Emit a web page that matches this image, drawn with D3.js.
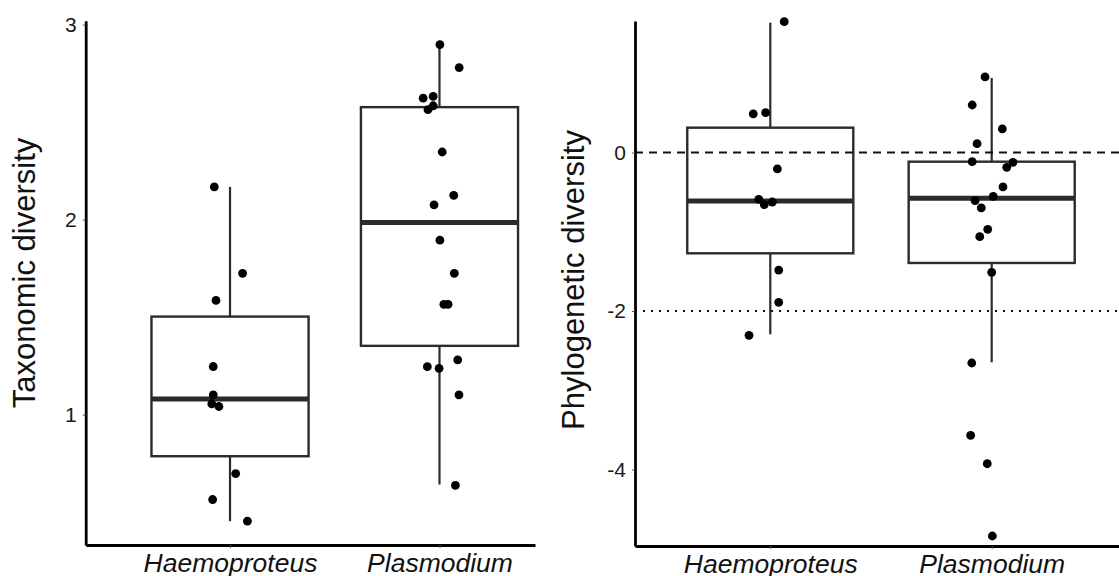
<!DOCTYPE html>
<html>
<head>
<meta charset="utf-8">
<script src="https://cdn.jsdelivr.net/npm/d3@7"></script>
<style>
  html, body { margin: 0; padding: 0; background: #fff; }
  svg { display: block; }
  text { font-family: "Liberation Sans", Arial, sans-serif; }
</style>
</head>
<body>
<svg id="chart" width="1119" height="576"></svg>
<script>
// ---------------- DATA ----------------
const categories = ["Haemoproteus", "Plasmodium"];

// Panel A: Taxonomic diversity
const taxTicks = [1, 2, 3];
const taxQ1 = [0.787, 1.353];
const taxMedian = [1.080, 1.986];
const taxQ3 = [1.503, 2.577];
const taxWhiskerLo = [0.454, 0.642];
const taxWhiskerHi = [2.168, 2.898];
const taxHaemoValues = [2.168, 1.725, 1.586, 1.247, 1.102, 1.056, 1.042, 0.698, 0.565, 0.454];
const taxHaemoJitter = [-0.075, 0.060, -0.067, -0.080, -0.080, -0.087, -0.053, 0.027, -0.083, 0.083];
const taxPlasValues = [2.898, 2.780, 2.623, 2.632, 2.584, 2.564, 2.347, 2.125, 2.076, 1.895, 1.725, 1.566, 1.566, 1.281, 1.246, 1.237, 1.102, 0.638];
const taxPlasJitter = [0.002, 0.094, -0.078, -0.030, -0.030, -0.055, 0.013, 0.068, -0.026, 0.002, 0.071, 0.021, 0.041, 0.087, -0.058, -0.002, 0.093, 0.076];

// Panel B: Phylogenetic diversity
const phyTicks = [-4, -2, 0];
const phyDomain = [-4.965, 1.659];
const phyQ1 = [-1.272, -1.394];
const phyMedian = [-0.612, -0.578];
const phyQ3 = [0.313, -0.116];
const phyWhiskerLo = [-2.294, -2.647];
const phyWhiskerHi = [1.638, 0.941];
const phyHaemoValues = [1.650, 0.486, 0.502, -0.208, -0.591, -0.659, -0.625, -1.483, -1.890, -2.307];
const phyHaemoJitter = [0.063, -0.077, -0.021, 0.032, -0.052, -0.027, 0.009, 0.038, 0.038, -0.096];
const phyPlasValues = [0.953, 0.599, 0.297, 0.111, -0.116, -0.187, -0.124, -0.435, -0.553, -0.608, -0.700, -0.969, -1.062, -1.512, -2.656, -3.568, -3.927, -4.839];
const phyPlasJitter = [-0.030, -0.088, 0.048, -0.066, -0.088, 0.068, 0.096, 0.051, 0.007, -0.075, -0.047, -0.018, -0.054, 0.000, -0.090, -0.095, -0.020, 0.003];
const phyRefDashed = 0;
const phyRefDotted = -2;

// ---------------- DRAW ----------------
const svg = d3.select("#chart");
const BOX_W = 0.75;

function drawPanel(opts) {
  const g = svg.append("g");
  const x = d3.scaleLinear().domain(opts.xDomain).range([opts.left, opts.right]);
  const y = d3.scaleLinear().domain(opts.yDomain).range([opts.bottom, opts.top]);

  categories.forEach((c, i) => {
    const cx = x(i);
    const x0 = x(i - BOX_W / 2), x1 = x(i + BOX_W / 2);
    g.append("line").attr("x1", cx).attr("x2", cx)
      .attr("y1", y(opts.q3[i])).attr("y2", y(opts.hi[i]))
      .attr("stroke", "#2b2b2b").attr("stroke-width", 2.2);
    g.append("line").attr("x1", cx).attr("x2", cx)
      .attr("y1", y(opts.q1[i])).attr("y2", y(opts.lo[i]))
      .attr("stroke", "#2b2b2b").attr("stroke-width", 2.2);
    g.append("rect").attr("x", x0).attr("y", y(opts.q3[i]))
      .attr("width", x1 - x0).attr("height", y(opts.q1[i]) - y(opts.q3[i]))
      .attr("fill", "#fff").attr("stroke", "#2b2b2b").attr("stroke-width", 2.4);
    g.append("line").attr("x1", x0).attr("x2", x1)
      .attr("y1", y(opts.median[i])).attr("y2", y(opts.median[i]))
      .attr("stroke", "#2b2b2b").attr("stroke-width", 5);
  });

  (opts.refs || []).forEach(r => {
    g.append("line").attr("x1", opts.left).attr("x2", opts.right)
      .attr("y1", y(r.v)).attr("y2", y(r.v))
      .attr("stroke", "#111").attr("stroke-width", 2)
      .attr("stroke-dasharray", r.dash);
  });

  opts.points.forEach((set, i) => {
    g.selectAll(null).data(set.values).enter().append("circle")
      .attr("cx", (d, k) => x(i + set.jitter[k]))
      .attr("cy", d => y(d))
      .attr("r", 4.4)
      .attr("fill", "#000");
  });

  const yAxis = d3.axisLeft(y).tickValues(opts.yTicks).tickSize(3).tickSizeOuter(0).tickPadding(6)
    .tickFormat(d3.format("d"));
  const ya = g.append("g").attr("transform", `translate(${opts.left},0)`).call(yAxis);
  ya.attr("font-size", null).attr("font-family", null);
  ya.select(".domain").attr("stroke", "#000").attr("stroke-width", 2.8);
  ya.selectAll(".tick line").attr("stroke", "#555").attr("stroke-width", 1);
  ya.selectAll(".tick text")
    .style("font-size", "21px").attr("fill", "#1a1a1a")
    .style("font-family", "'Liberation Sans', Arial, sans-serif")
    .text(d => d < 0 ? "-" + Math.abs(d) : d);

  const xAxis = d3.axisBottom(x).tickValues([0, 1]).tickSize(3).tickSizeOuter(0).tickPadding(5)
    .tickFormat(i => categories[i]);
  const xa = g.append("g").attr("transform", `translate(0,${opts.bottom})`).call(xAxis);
  xa.attr("font-size", null).attr("font-family", null);
  xa.select(".domain").attr("stroke", "#000").attr("stroke-width", 2.8);
  xa.selectAll(".tick line").attr("stroke", "#555").attr("stroke-width", 1);
  xa.selectAll(".tick text")
    .style("font-size", "26.5px").attr("fill", "#111")
    .style("font-style", "italic")
    .style("font-family", "'Liberation Sans', Arial, sans-serif");

  g.append("text")
    .attr("transform", `translate(${opts.titleX},${opts.titleY}) rotate(-90)`)
    .attr("text-anchor", "middle")
    .style("font-size", "31px")
    .attr("fill", "#111")
    .text(opts.title);
}

const taxAll = taxHaemoValues.concat(taxPlasValues);
const taxExt = d3.extent(taxAll);
const taxPad = (taxExt[1] - taxExt[0]) * 0.05;

drawPanel({
  left: 85.7, right: 535, top: 20.7, bottom: 545,
  xDomain: [-0.689, 1.456],
  yDomain: [taxExt[0] - taxPad, taxExt[1] + taxPad],
  yTicks: taxTicks,
  q1: taxQ1, median: taxMedian, q3: taxQ3, lo: taxWhiskerLo, hi: taxWhiskerHi,
  points: [
    { values: taxHaemoValues, jitter: taxHaemoJitter },
    { values: taxPlasValues, jitter: taxPlasJitter }
  ],
  title: "Taxonomic diversity", titleX: 35, titleY: 273
});

drawPanel({
  left: 635, right: 1119, top: 21, bottom: 546,
  xDomain: [-0.611, 1.575],
  yDomain: phyDomain,
  yTicks: phyTicks,
  q1: phyQ1, median: phyMedian, q3: phyQ3, lo: phyWhiskerLo, hi: phyWhiskerHi,
  refs: [{ v: phyRefDashed, dash: "8,6" }, { v: phyRefDotted, dash: "2,6" }],
  points: [
    { values: phyHaemoValues, jitter: phyHaemoJitter },
    { values: phyPlasValues, jitter: phyPlasJitter }
  ],
  title: "Phylogenetic diversity", titleX: 584, titleY: 280
});
</script>
</body>
</html>
